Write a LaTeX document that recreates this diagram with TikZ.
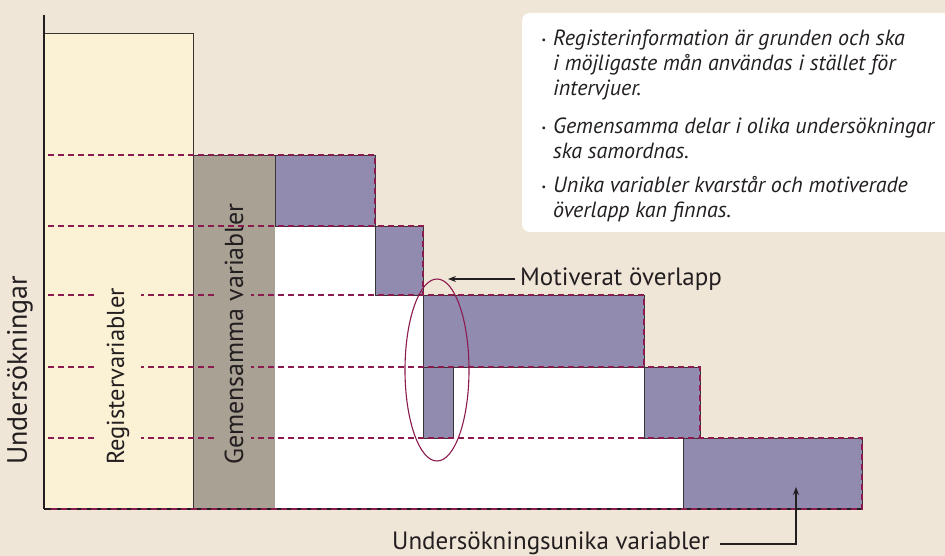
\documentclass[tikz,border=0pt]{standalone}
\usepackage{fontspec}
\setmainfont{PT Sans}
\usetikzlibrary{arrows.meta,shapes.geometric}
\definecolor{bg}{HTML}{F0E6D8}
\definecolor{regy}{HTML}{FBF1D4}
\definecolor{gemg}{HTML}{A8A194}
\definecolor{uniq}{HTML}{908BAF}
\definecolor{dred}{HTML}{8B1A4E}
\definecolor{ink}{HTML}{231F20}
\newcommand{\bul}{\llap{{\upshape\fontsize{10}{10}\selectfont\raisebox{2pt}{•}}\hspace{7pt}}}
\begin{document}
\begin{tikzpicture}[x=1pt,y=-1pt,
  blk/.style={draw=ink!90, line width=0.8pt},
  rowline/.style={draw=dred, dash pattern=on 6pt off 4pt, line width=1.1pt},
  lbl/.style={font=\fontsize{25}{28}\selectfont, text=ink, inner sep=0pt},
  vlbl/.style={lbl, font=\fontsize{26}{28}\selectfont, rotate=90, anchor=west},
  bulletitem/.style={font=\itshape\fontsize{22}{25}\selectfont, text=ink, align=left, anchor=base west, inner sep=0pt},
  pointer/.style={draw=ink, line width=1.1pt, -{Stealth[length=8pt,width=6pt]}}]
\fill[bg] (0,0) rectangle (945,556);
\useasboundingbox (0,0) rectangle (945,556);
\begin{scope}
  \clip (0,0) rectangle (945,556);
  \fill[white, rounded corners=8pt] (522,13) rectangle (965,232);
\end{scope}
% main boxes
\path[blk, fill=regy] (44,33) rectangle (193,509);
\path[blk, fill=gemg] (193,155) rectangle (275,509);
\fill[white] (275,226) -- (375,226) -- (375,295) -- (423,295) -- (423,367)
  -- (644,367) -- (644,438) -- (683,438) -- (683,509) -- (275,509) -- cycle;
% unique variable blocks
\path[blk, fill=uniq] (275,155) rectangle (375,226);
\path[blk, fill=uniq] (375,226) rectangle (423,295);
\path[blk, fill=uniq] (423,295) rectangle (644,367);
\path[blk, fill=uniq] (423,367) rectangle (453,438);
\path[blk, fill=uniq] (644,367) rectangle (700,438);
\path[blk, fill=uniq] (683,438) rectangle (862,509);
% bottom line
\draw[ink, line width=1.2pt] (44,509) -- (862,509);
% survey rows (dashed)
\draw[rowline] (48,155) -- (375,155) -- (375,226);
\draw[rowline] (48,226) -- (423,226) -- (423,295);
\draw[rowline] (48,295) -- (644,295) -- (644,367);
\draw[rowline] (48,367) -- (700,367) -- (700,438);
\draw[rowline] (48,438) -- (862,438) -- (862,509) -- (48,509);
\draw[ink, line width=1.2pt] (44,15) -- (44,509);
% vertical labels
\node[vlbl, font=\fontsize{28}{30}\selectfont] (und) at (20,465) {Undersökningar};
\node[vlbl, font=\fontsize{24.5}{27}\selectfont, fill=regy, inner ysep=12pt] (reg) at (118,465) {Registervariabler};
\node[vlbl, fill=gemg, inner ysep=8pt] (gem) at (234,465) {Gemensamma variabler};
\draw[rowline, dash phase=5pt] (193,226) -- (275,226);
% overlap
\node[draw=dred, line width=1.1pt, ellipse, minimum width=64pt, minimum height=182pt, inner sep=0pt] (ov) at (437,370) {};
\node[lbl, anchor=west] (mot) at (520,279) {Motiverat överlapp};
\coordinate (ovtip) at (448,279);
\draw[pointer] ([xshift=-5pt]mot.west) -- (ovtip);
% unique label
\node[lbl, anchor=base west] (uni) at (392,549) {Undersökningsunika variabler};
\coordinate (unitip) at (796,487);
\draw[pointer] ([xshift=10pt,yshift=5pt]uni.base east) -| (unitip);
% bullet text
\node[bulletitem] (b1) at (553,96) {\bul Registerinformation är grunden och ska\\i möjligaste mån användas i stället för\\intervjuer.};
\node[bulletitem] (b2) at (553,159) {\bul Gemensamma delar i olika undersökningar\\ska samordnas.};
\node[bulletitem] (b3) at (553,218) {\bul Unika variabler kvarstår och motiverade\\överlapp kan finnas.};
\end{tikzpicture}
\end{document}
